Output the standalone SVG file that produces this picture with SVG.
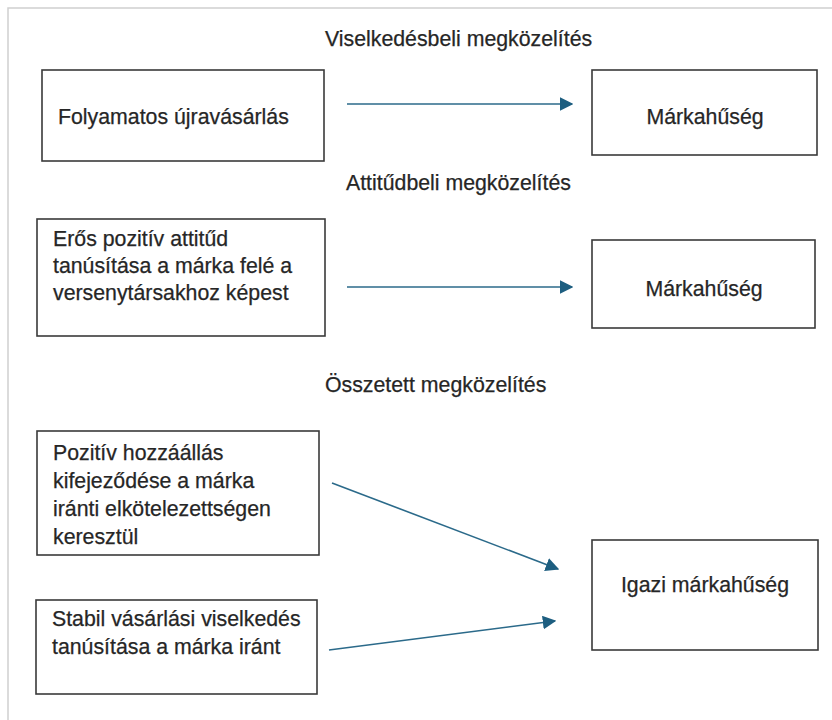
<svg xmlns="http://www.w3.org/2000/svg" width="832" height="720" viewBox="0 0 832 720">
<style>
.box{fill:#fff;stroke:#3a3a3a;stroke-width:1.6}
.t{font-family:"Liberation Sans",Arial,sans-serif;font-size:21.3px;fill:#262626;stroke:#262626;stroke-width:0.25}
.c{text-anchor:middle}
.conn line{stroke:#2b6a8a;stroke-width:1.6;fill:none}
</style>
<defs>
<marker id="ah2" viewBox="0 0 10 10" refX="9" refY="5" markerWidth="8.5" markerHeight="8.5" orient="auto" markerUnits="strokeWidth">
<path d="M0,0 L10,5 L0,10 z" fill="#1d5e80"/>
</marker>
</defs>
<rect width="832" height="720" fill="#fff"/>
<path d="M8,720 V8 H832" fill="none" stroke="#d0d0d0" stroke-width="1.5"/>

<text class="t" x="325" y="46">Viselkedésbeli megközelítés</text>
<text class="t" x="346" y="190">Attitűdbeli megközelítés</text>
<text class="t" x="325" y="392">Összetett megközelítés</text>

<g id="n1"><rect class="box" x="42" y="70" width="282" height="91"/><text class="t" x="58" y="124">Folyamatos újravásárlás</text></g>
<g id="n2"><rect class="box" x="592" y="70" width="225" height="85"/><text class="t c" x="705" y="124">Márkahűség</text></g>
<g id="n3"><rect class="box" x="37" y="219" width="288" height="117"/><text class="t" x="53" y="246">Erős pozitív attitűd</text><text class="t" x="53" y="273">tanúsítása a márka felé a</text><text class="t" x="53" y="300">versenytársakhoz képest</text></g>
<g id="n4"><rect class="box" x="592" y="240" width="223" height="88"/><text class="t c" x="704" y="296">Márkahűség</text></g>
<g id="n5"><rect class="box" x="37" y="431" width="282" height="124"/><text class="t" x="53" y="460">Pozitív hozzáállás</text><text class="t" x="53" y="488">kifejeződése a márka</text><text class="t" x="53" y="516">iránti elkötelezettségen</text><text class="t" x="53" y="544">keresztül</text></g>
<g id="n6"><rect class="box" x="592" y="540" width="226" height="110"/><text class="t c" x="705" y="592">Igazi márkahűség</text></g>
<g id="n7"><rect class="box" x="36" y="600" width="281" height="94"/><text class="t" x="52" y="626">Stabil vásárlási viselkedés</text><text class="t" x="52" y="654">tanúsítása a márka iránt</text></g>

<g id="connectors" class="conn">
<line x1="347" y1="104" x2="572" y2="104" marker-end="url(#ah2)"/>
<line x1="347" y1="287" x2="572" y2="287" marker-end="url(#ah2)"/>
<line x1="332" y1="483" x2="558" y2="569" marker-end="url(#ah2)"/>
<line x1="329" y1="650" x2="555" y2="621" marker-end="url(#ah2)"/>
</g>
</svg>
